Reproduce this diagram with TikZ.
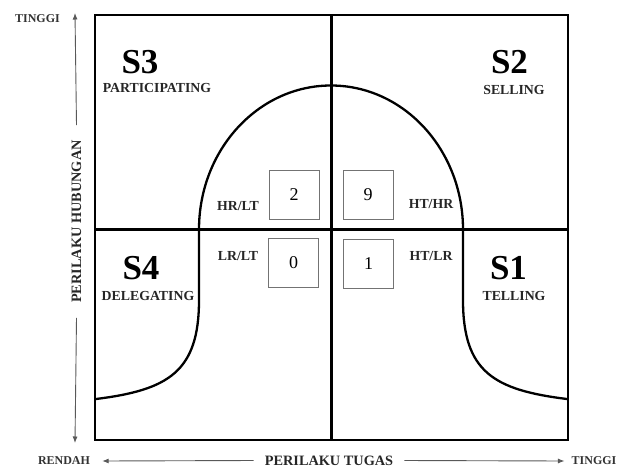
\documentclass[tikz,border=0pt]{standalone}
\usepackage{fontspec}
\setmainfont{Liberation Serif}
\usetikzlibrary{arrows.meta}

\begin{document}
\begin{tikzpicture}[x=1pt,y=-1pt,
        quad/.style={line width=2.6pt},
        lbl/.style={font=\fontsize{13.8}{14}\selectfont\bfseries, text=black!85, inner sep=0pt},
        big/.style={font=\fontsize{35}{36}\selectfont\bfseries, inner sep=0pt},
        axislbl/.style={font=\fontsize{14.3}{15}\selectfont\bfseries, text=black!85, inner sep=0pt},
        ends/.style={font=\fontsize{12}{13}\selectfont\bfseries, text=black!80, inner sep=0pt},
        numbox/.style={draw=black!55, line width=1pt, minimum width=50pt, minimum height=49pt,
            font=\fontsize{18}{19}\selectfont, inner sep=0pt},
        axisarrow/.style={draw=black!65, line width=0.9pt, -{Latex[length=6.5pt,width=5pt]}}]
        \useasboundingbox (0,0) rectangle (628,468);
        % kuadran
        \draw[quad] (95,15) rectangle (568,440);
        \draw[line width=2.3pt] (331.5,15) -- (331.5,440);
        \draw[line width=2.3pt] (95,229.5) -- (568,229.5);
        % kurva gaya kepemimpinan
        \draw[line width=2.3pt] (96,399) .. controls (168,390) and (199,372) .. (199,300)
            -- (199,229.5) arc[start angle=180, end angle=360, x radius=132, y radius=144]
            -- (463,300) .. controls (463,372) and (494,390) .. (567,399);
        % nama gaya
        \node[big] (s3) at (140,62) {S3};
        \node[lbl] (s3t) at (157,88) {PARTICIPATING};
        \node[big] (s2) at (509.5,62) {S2};
        \node[lbl] (s2t) at (514,90) {SELLING};
        \node[big] (s4) at (141,268) {S4};
        \node[lbl] (s4t) at (148,296) {DELEGATING};
        \node[big] (s1) at (508.5,268) {S1};
        \node[lbl] (s1t) at (514,296) {TELLING};
        % kotak angka
        \node[numbox] (n2) at (294,194.5) {2};
        \node[numbox] (n9) at (368,194.5) {9};
        \node[numbox] (n0) at (293.5,262.5) {0};
        \node[numbox] (n1) at (368.5,263.5) {1};
        \node[lbl] (hrlt) at (238,206) {HR/LT};
        \node[lbl] (hthr) at (431,204) {HT/HR};
        \node[lbl] (lrlt) at (238,256) {LR/LT};
        \node[lbl] (htlr) at (431,256) {HT/LR};
        % sumbu
        \node[ends] (ytop) at (37.5,19) {TINGGI};
        \coordinate (yup) at (75,13);
        \coordinate (ydown) at (75,443);
        \node[axislbl, rotate=90, inner xsep=15pt] (ylab) at (76.5,221.5) {PERILAKU HUBUNGAN};
        \draw[axisarrow] (ylab.east) -- (yup);
        \draw[axisarrow] (ylab.west) -- (ydown);
        \node[ends] (rendah) at (64,461) {RENDAH};
        \node[ends] (tinggi) at (594,461) {TINGGI};
        \node[axislbl, inner xsep=11pt] (xlab) at (329,460.5) {PERILAKU TUGAS};
        \draw[axisarrow] (xlab.west) -- ([xshift=12pt]rendah.east);
        \draw[axisarrow] (xlab.east) -- ([xshift=-7pt]tinggi.west);
\end{tikzpicture}
\end{document}
